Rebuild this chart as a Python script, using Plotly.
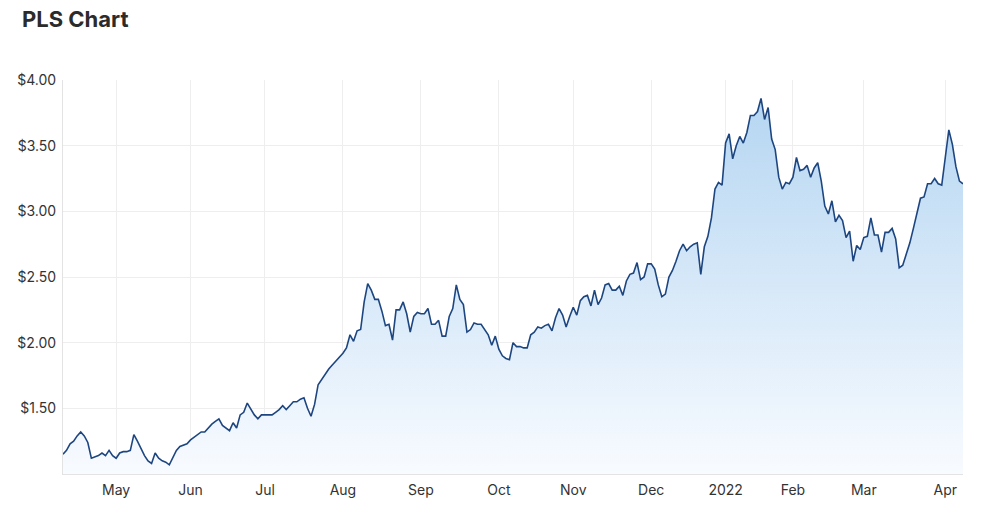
import pandas as pd
import plotly.graph_objects as go

# ---- data -------------------------------------------------------------
start_date = "2021-04-12"
end_date = "2022-04-08"
asx_holidays = ["2021-06-14", "2021-12-27", "2021-12-28", "2022-01-03", "2022-01-26"]

prices = [
    1.15, 1.18, 1.23, 1.25, 1.29, 1.32, 1.29, 1.24, 1.12, 1.13,
    1.14, 1.16, 1.14, 1.18, 1.14, 1.12, 1.16, 1.17, 1.17, 1.18,
    1.30, 1.25, 1.19, 1.14, 1.10, 1.08, 1.16, 1.12, 1.10, 1.09,
    1.07, 1.12, 1.18, 1.21, 1.22, 1.23, 1.26, 1.28, 1.30, 1.32,
    1.32, 1.35, 1.38, 1.40, 1.42, 1.37, 1.35, 1.33, 1.39, 1.35,
    1.45, 1.47, 1.54, 1.49, 1.45, 1.42, 1.45, 1.45, 1.45, 1.45,
    1.47, 1.49, 1.52, 1.49, 1.52, 1.55, 1.55, 1.57, 1.58, 1.50,
    1.44, 1.53, 1.68, 1.72, 1.77, 1.80, 1.83, 1.86, 1.89, 1.92,
    1.96, 2.06, 2.01, 2.09, 2.10, 2.31, 2.45, 2.40, 2.33, 2.33,
    2.24, 2.13, 2.14, 2.02, 2.25, 2.25, 2.31, 2.22, 2.08, 2.20,
    2.23, 2.22, 2.22, 2.26, 2.14, 2.14, 2.17, 2.05, 2.05, 2.20,
    2.26, 2.44, 2.33, 2.29, 2.08, 2.10, 2.15, 2.14, 2.14, 2.10,
    2.06, 1.98, 2.05, 1.95, 1.90, 1.88, 1.87, 2.00, 1.97, 1.97,
    1.96, 1.96, 2.06, 2.08, 2.12, 2.11, 2.13, 2.14, 2.09, 2.19,
    2.26, 2.21, 2.12, 2.20, 2.27, 2.21, 2.32, 2.35, 2.36, 2.28,
    2.40, 2.29, 2.34, 2.44, 2.45, 2.40, 2.40, 2.43, 2.36, 2.47,
    2.52, 2.53, 2.61, 2.48, 2.50, 2.60, 2.60, 2.56, 2.44, 2.35,
    2.37, 2.50, 2.55, 2.62, 2.70, 2.75, 2.70, 2.73, 2.75, 2.76,
    2.52, 2.73, 2.81, 2.95, 3.17, 3.22, 3.20, 3.52, 3.59, 3.40,
    3.50, 3.57, 3.52, 3.60, 3.73, 3.73, 3.76, 3.86, 3.70, 3.79,
    3.55, 3.47, 3.26, 3.17, 3.22, 3.21, 3.26, 3.41, 3.31, 3.32,
    3.35, 3.26, 3.33, 3.37, 3.23, 3.04, 2.98, 3.08, 2.92, 2.97,
    2.93, 2.80, 2.85, 2.62, 2.74, 2.71, 2.80, 2.81, 2.95, 2.82,
    2.82, 2.69, 2.84, 2.84, 2.87, 2.79, 2.57, 2.59, 2.68, 2.76,
    2.87, 2.98, 3.10, 3.11, 3.21, 3.21, 3.25, 3.21, 3.20, 3.41,
    3.62, 3.51, 3.34, 3.23, 3.21,
]

month_labels = ["May", "Jun", "Jul", "Aug", "Sep", "Oct", "Nov", "Dec",
                "2022", "Feb", "Mar", "Apr"]
y_ticks = [1.5, 2.0, 2.5, 3.0, 3.5, 4.0]
y_tick_labels = ["$1.50", "$2.00", "$2.50", "$3.00", "$3.50", "$4.00"]

# ---- trading calendar ---------------------------------------------------
trade_days = pd.bdate_range(start_date, end_date, freq="C",
                            holidays=asx_holidays)
trade_days = trade_days[:len(prices)]
dates = [d.strftime("%Y-%m-%d") for d in trade_days]

# first trading day of each month after the first month
month_starts = []
prev = None
for d in trade_days:
    key = (d.year, d.month)
    if prev is not None and key != prev:
        month_starts.append(d.strftime("%Y-%m-%d"))
    prev = key
tick_text = month_labels[:len(month_starts)]

# ---- figure -------------------------------------------------------------
FONT = "Inter, Roboto, Arial, sans-serif"

fig = go.Figure()
fig.add_trace(go.Scatter(
    x=dates,
    y=prices,
    mode="lines",
    line=dict(color="#1d4680", width=1.6),
    fill="tozeroy",
    fillgradient=dict(
        type="vertical",
        colorscale=[[0, "rgb(248,251,255)"], [1, "rgb(178,212,241)"]],
        start=1.0,
        stop=4.0,
    ),
    hoverinfo="x+y",
    showlegend=False,
))

fig.update_layout(
    width=1000,
    height=518,
    margin=dict(l=63, r=37, t=80, b=44),
    paper_bgcolor="white",
    plot_bgcolor="white",
    font=dict(family=FONT, size=14, color="#333333"),
    title=dict(
        text="<b>PLS Chart</b>",
        x=0.022, xanchor="left", xref="container",
        y=0.963, yanchor="middle", yref="container",
        font=dict(family=FONT, size=22, color="#2b2b2b"),
    ),
)

fig.update_xaxes(
    type="category",
    range=[0, len(prices) - 1],
    tickmode="array",
    tickvals=month_starts,
    ticktext=tick_text,
    showgrid=True,
    gridcolor="#eeeeee",
    gridwidth=1,
    showline=True,
    linecolor="#e3e3e3",
    linewidth=1,
    ticks="",
    ticklabelstandoff=3,
    tickfont=dict(size=14, color="#333333"),
    zeroline=False,
)

fig.update_yaxes(
    range=[1.0, 4.0],
    tickmode="array",
    tickvals=y_ticks,
    ticktext=y_tick_labels,
    showgrid=True,
    gridcolor="#eeeeee",
    gridwidth=1,
    showline=True,
    linecolor="#e3e3e3",
    linewidth=1,
    ticks="",
    ticklabelstandoff=3,
    tickfont=dict(size=14, color="#333333"),
    zeroline=False,
)

fig.write_html("out.html")
